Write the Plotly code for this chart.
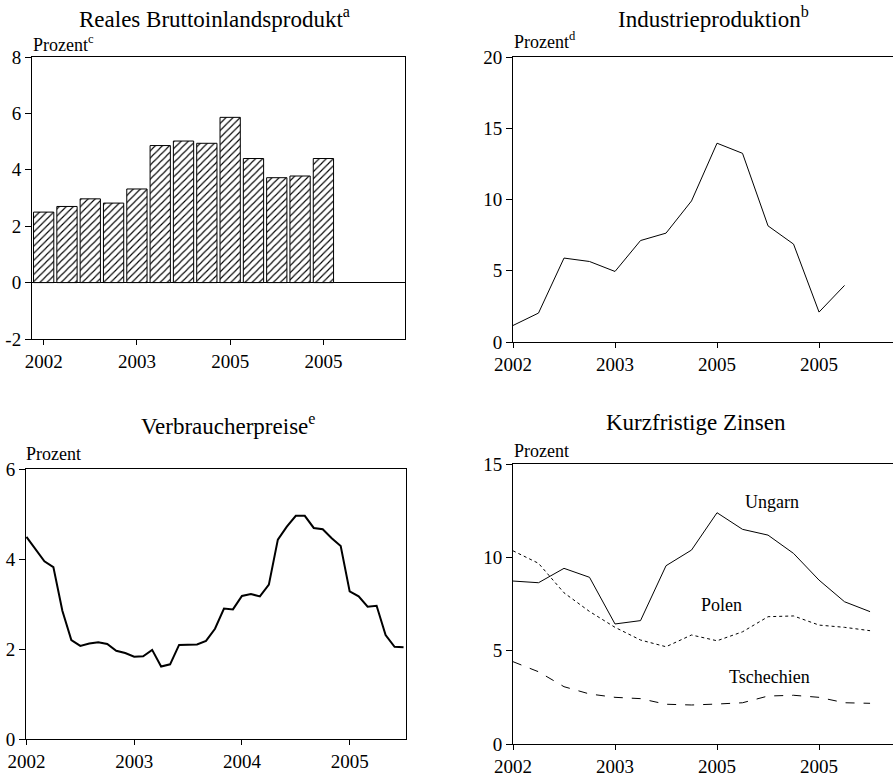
import plotly.graph_objects as go

# ---------------- data ----------------
gdp_quarters = list(range(13))
gdp_values = [2.5, 2.7, 2.97, 2.82, 3.32, 4.86, 5.02, 4.94, 5.86, 4.4, 3.72, 3.78, 4.4]
gdp_tickvals = [0, 4, 8, 12]
gdp_ticktext = ["2002", "2003", "2005", "2005"]
gdp_ytickvals = [-2, 0, 2, 4, 6, 8]
gdp_yticktext = ["-2", "0", "2", "4", "6", "8"]

ip_quarters = list(range(14))
ip_values = [1.16, 2.03, 5.89, 5.65, 4.95, 7.12, 7.64, 9.9, 13.95, 13.24, 8.15, 6.87, 2.1, 3.97]
ip_tickvals = [0, 4, 8, 12]
ip_ticktext = ["2002", "2003", "2005", "2005"]

cpi_months = list(range(43))
cpi_values = [4.49, 4.22, 3.95, 3.82, 2.85, 2.2, 2.07, 2.12, 2.15, 2.11,
              1.96, 1.91, 1.83, 1.84, 1.98, 1.61, 1.66, 2.09, 2.1, 2.1,
              2.18, 2.45, 2.9, 2.88, 3.18, 3.22, 3.17, 3.43, 4.43, 4.72,
              4.96, 4.96, 4.69, 4.66, 4.46, 4.29, 3.28, 3.17, 2.94, 2.96,
              2.31, 2.05, 2.04]
cpi_tickvals = [0, 12, 24, 36]
cpi_ticktext = ["2002", "2003", "2004", "2005"]

rate_quarters = list(range(15))
ungarn = [8.73, 8.64, 9.41, 8.93, 6.43, 6.61, 9.55, 10.39, 12.39, 11.5, 11.19, 10.21, 8.78, 7.62, 7.09]
polen = [10.35, 9.68, 8.1, 7.1, 6.25, 5.57, 5.21, 5.84, 5.53, 6.01, 6.82, 6.86, 6.37, 6.25, 6.07]
tschechien = [4.41, 3.87, 3.07, 2.68, 2.5, 2.43, 2.13, 2.09, 2.14, 2.21, 2.57, 2.61, 2.5, 2.21, 2.18]
rate_tickvals = [0, 4, 8, 12]
rate_ticktext = ["2002", "2003", "2005", "2005"]

# ---------------- figure ----------------
W, H = 893, 775
FONT = "Liberation Serif, Times New Roman, serif"

def px_x(p):
    return p / W

def px_y(p):
    return 1 - p / H

fig = go.Figure()

fig.add_trace(go.Bar(
    x=gdp_quarters, y=gdp_values, xaxis="x", yaxis="y",
    marker=dict(color="white", line=dict(color="black", width=1),
                pattern=dict(shape="/", fgcolor="black", bgcolor="white", size=5, solidity=0.22)),
    showlegend=False))

fig.add_trace(go.Scatter(
    x=ip_quarters, y=ip_values, xaxis="x2", yaxis="y2", mode="lines",
    line=dict(color="black", width=1), showlegend=False))

fig.add_trace(go.Scatter(
    x=cpi_months, y=cpi_values, xaxis="x3", yaxis="y3", mode="lines",
    line=dict(color="black", width=2), showlegend=False))

fig.add_trace(go.Scatter(
    x=rate_quarters, y=ungarn, xaxis="x4", yaxis="y4", mode="lines",
    line=dict(color="black", width=1), showlegend=False))
fig.add_trace(go.Scatter(
    x=rate_quarters, y=polen, xaxis="x4", yaxis="y4", mode="lines",
    line=dict(color="black", width=1, dash="dot"), showlegend=False))
fig.add_trace(go.Scatter(
    x=rate_quarters, y=tschechien, xaxis="x4", yaxis="y4", mode="lines",
    line=dict(color="black", width=1, dash="dash"), showlegend=False))

axis_common = dict(showgrid=False, showline=True, linecolor="black", linewidth=1,
                   ticks="outside", tickcolor="black", ticklen=6, tickwidth=1,
                   automargin=False,
                   tickfont=dict(family=FONT, size=19, color="black"))

def xa(domain, rng, tv, tt, mirror=True):
    d = dict(axis_common)
    d.update(domain=domain, range=rng, tickvals=tv, ticktext=tt, mirror=mirror, zeroline=False,
             ticklen=5)
    return d

def ya(domain, rng, dt, mirror=True, zeroline=False, tv=None, tt=None):
    d = dict(axis_common)
    d.update(domain=domain, range=rng, mirror=mirror, zeroline=zeroline,
             zerolinecolor="black", zerolinewidth=1)
    if tv is not None:
        d.update(tickvals=tv, ticktext=tt)
    else:
        d.update(dtick=dt, tick0=0)
    return d

fig.update_layout(
    template="none",
    width=W, height=H,
    margin=dict(l=0, r=0, t=0, b=0, pad=0),
    paper_bgcolor="white", plot_bgcolor="white",
    bargap=0.13,
    showlegend=False,
    font=dict(family=FONT, color="black"),
    xaxis=dict(xa([px_x(32), px_x(405)], [-0.5, 15.5], gdp_tickvals, gdp_ticktext), anchor="y"),
    yaxis=dict(ya([px_y(339), px_y(57)], [-2, 8], 2, zeroline=True, tv=gdp_ytickvals, tt=gdp_yticktext), anchor="x"),
    xaxis2=dict(xa([px_x(513), 1.0], [0, 14.9], ip_tickvals, ip_ticktext), anchor="y2"),
    yaxis2=dict(ya([px_y(342), px_y(57)], [0, 20], 5, mirror=False), anchor="x2"),
    xaxis3=dict(xa([px_x(26), px_x(405.7)], [-0.05, 42.24], cpi_tickvals, cpi_ticktext), anchor="y3"),
    yaxis3=dict(ya([px_y(739), px_y(469)], [0, 6], 2), anchor="x3"),
    xaxis4=dict(xa([px_x(513), 1.0], [0, 14.9], rate_tickvals, rate_ticktext), anchor="y4"),
    yaxis4=dict(ya([px_y(744), px_y(464)], [0, 15], 5, mirror=False), anchor="x4"),
)

def ann(text, x, y, size, xanchor="center", yanchor="middle", xref="paper", yref="paper"):
    fig.add_annotation(text=text, x=x, y=y, xref=xref, yref=yref, showarrow=False,
                       xanchor=xanchor, yanchor=yanchor,
                       font=dict(family=FONT, size=size, color="black"))

# titles
ann("Reales Bruttoinlandsprodukt<sup>a</sup>", px_x(214), px_y(17), 23)
ann("Industrieproduktion<sup>b</sup>", px_x(713), px_y(17), 23)
ann("Verbraucherpreise<sup>e</sup>", px_x(228), px_y(425), 23)
ann("Kurzfristige Zinsen", px_x(696), px_y(422), 23)

# unit labels
ann("Prozent<sup>c</sup>", px_x(31), px_y(44), 18, xanchor="left")
ann("Prozent<sup>d</sup>", px_x(512), px_y(41), 18, xanchor="left")
ann("Prozent", px_x(24), px_y(454), 18, xanchor="left")
ann("Prozent", px_x(512), px_y(451), 18, xanchor="left")

# series labels
ann("Ungarn", 10.17, 12.98, 18, xref="x4", yref="y4")
ann("Polen", 8.17, 7.45, 18, xref="x4", yref="y4")
ann("Tschechien", 10.07, 3.57, 18, xref="x4", yref="y4")

# place the figure at the page's top-left corner (no default body margin), no toolbar
fig.write_html("out.html", config={"displayModeBar": False},
               post_script="document.body.style.margin='0px';")
